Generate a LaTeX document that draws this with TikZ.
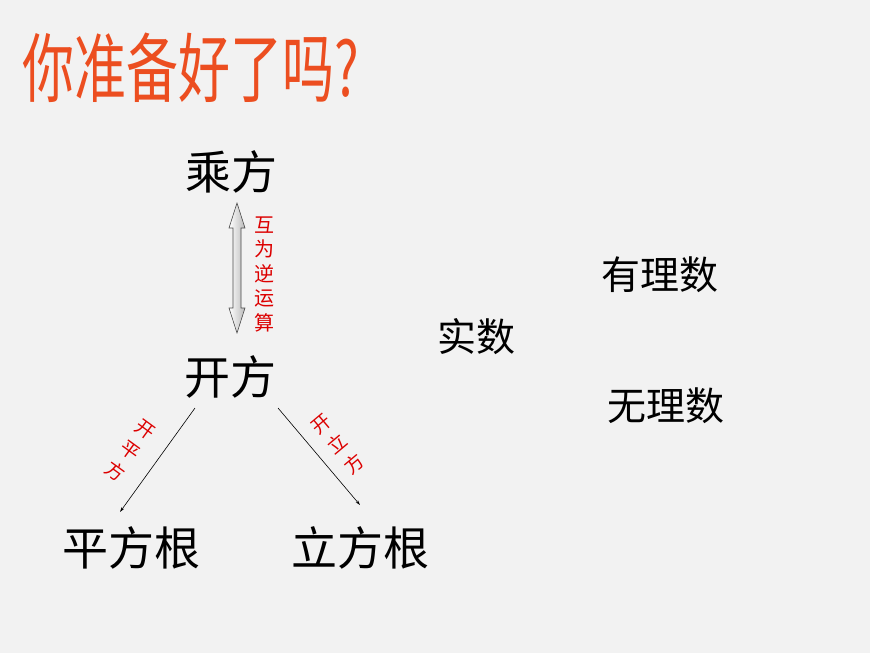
\documentclass[tikz,border=0pt]{standalone}
\usepackage{fontspec}
\setmainfont{Noto Sans CJK SC}
\usetikzlibrary{arrows.meta,shapes.geometric}
\definecolor{bg}{RGB}{242,242,242}
\definecolor{titlered}{RGB}{236,78,32}
\definecolor{labred}{RGB}{220,0,0}
\tikzset{
  big/.style={font=\fontsize{46}{46}\selectfont, text=black, inner sep=0pt},
  mid/.style={font=\fontsize{39}{39}\selectfont, text=black, inner sep=0pt},
  lab/.style={font=\fontsize{20}{24.5}\selectfont, text=labred, inner sep=0pt, align=center},
  dlab/.style={font=\fontsize{19}{26}\selectfont, text=labred, inner sep=0pt, align=center},
  conn/.style={draw=black, line width=0.6pt, -{Stealth[length=5pt,width=3pt]}}
}
\begin{document}
\begin{tikzpicture}[x=1pt,y=-1pt]
\fill[bg] (0,0) rectangle (870,653);
\useasboundingbox (0,0) rectangle (870,653);
% title
\node[inner sep=0pt, text=titlered, font=\fontsize{52}{52}\selectfont, yscale=1.45, anchor=west] (title) at (22,68) {你准备好了吗?};
% main nodes
\node[big] (cf) at (231,172) {乘方};
\node[big] (kf) at (230,377) {开方};
\node[big] (pfg) at (131,548) {平方根};
\node[big] (lfg) at (360,548) {立方根};
\node[mid] (ss) at (476,337) {实数};
\node[mid] (yl) at (660,275) {有理数};
\node[mid] (wl) at (666,406) {无理数};
% double arrow
\shade[left color=white, right color=gray!55, draw=gray!60!black, line width=0.6pt]
  (237,203) -- (245,228) -- (241,228) -- (241,308) -- (245,308) -- (237,333)
  -- (229,308) -- (233,308) -- (233,228) -- (229,228) -- cycle;
\node[lab] (hw) at (264,274) {互\\为\\逆\\运\\算};
% connectors
\coordinate (l1) at (195,408);
\coordinate (l2) at (120,512);
\coordinate (r1) at (278,408);
\coordinate (r2) at (360,505);
\draw[conn] (l1) -- (l2);
\draw[conn] (r1) -- (r2);
\node[dlab, rotate=-36] (kpf) at (130,451) {开\\平\\方};
\node[dlab, rotate=40] (klf) at (338,444) {开\\立\\方};
\end{tikzpicture}
\end{document}
